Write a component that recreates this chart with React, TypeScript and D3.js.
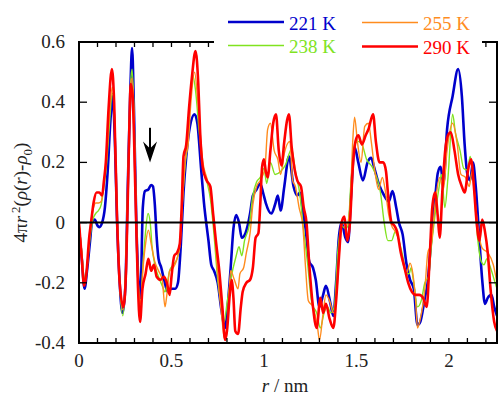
import React from "react";
import * as d3 from "d3";

// 4πr²(ρ(r)-ρ0) vs r for four temperatures
const W = 498;
const H = 397;
const margin = { top: 42, right: 1, bottom: 54, left: 79 };

const xTickValues = [0, 0.5, 1, 1.5, 2];
const xTickLabels = ["0", "0.5", "1", "1.5", "2"];
const yTickValues = [-0.4, -0.2, 0, 0.2, 0.4, 0.6];
const yTickLabels = ["-0.4", "-0.2", "0", "0.2", "0.4", "0.6"];

const seriesNames = ["221 K", "238 K", "255 K", "290 K"];
const seriesColors = ["#0000cc", "#80e31f", "#ff8c1e", "#ff0000"];
const seriesWidths = [2.6, 1.4, 1.4, 2.6];

// [r (nm), value]
const t221: [number, number][] = [
  [0, -0.02], [0.015, -0.12], [0.03, -0.22], [0.045, -0.15], [0.06, -0.06], [0.07, 0.0],
  [0.085, 0.01], [0.1, -0.01], [0.11, -0.015], [0.125, 0.0], [0.14, 0.05], [0.155, 0.17],
  [0.17, 0.34], [0.182, 0.42], [0.195, 0.25], [0.205, 0.02], [0.22, -0.2], [0.235, -0.3],
  [0.25, -0.22], [0.265, 0.15], [0.278, 0.45], [0.287, 0.58], [0.297, 0.38], [0.31, 0.0],
  [0.322, -0.2], [0.332, -0.25], [0.345, 0.05], [0.357, 0.105], [0.375, 0.11], [0.39, 0.125],
  [0.4, 0.12], [0.41, 0.06], [0.42, -0.05], [0.43, -0.12], [0.445, -0.15], [0.46, -0.19],
  [0.48, -0.23], [0.5, -0.22], [0.52, -0.22], [0.535, -0.2], [0.55, -0.08], [0.565, 0.1],
  [0.58, 0.22], [0.6, 0.32], [0.625, 0.36], [0.64, 0.33], [0.66, 0.18], [0.675, 0.07],
  [0.7, -0.06], [0.715, -0.14], [0.73, -0.16], [0.75, -0.2], [0.77, -0.29], [0.79, -0.35],
  [0.805, -0.27], [0.82, -0.15], [0.835, -0.02], [0.85, 0.025], [0.865, 0.0], [0.88, -0.05],
  [0.9, -0.035], [0.925, 0.03], [0.94, 0.09], [0.96, 0.11], [0.98, 0.13], [0.995, 0.1],
  [1.01, 0.065], [1.04, 0.03], [1.06, 0.06], [1.075, 0.09], [1.09, 0.04], [1.11, 0.12],
  [1.135, 0.22], [1.16, 0.12], [1.18, 0.09], [1.195, 0.1], [1.21, 0.04], [1.225, -0.02],
  [1.245, -0.13], [1.265, -0.15], [1.28, -0.19], [1.3, -0.28], [1.32, -0.24], [1.335, -0.21],
  [1.36, -0.27], [1.375, -0.31], [1.39, -0.2], [1.405, -0.05], [1.42, 0.0], [1.44, -0.05],
  [1.455, -0.065], [1.47, 0.08], [1.49, 0.25], [1.51, 0.2], [1.535, 0.14], [1.56, 0.2],
  [1.58, 0.215], [1.595, 0.185], [1.62, 0.13], [1.65, 0.09], [1.675, 0.07], [1.695, 0.105],
  [1.715, 0.05], [1.73, 0.0], [1.75, -0.04], [1.77, -0.135], [1.79, -0.19], [1.81, -0.22],
  [1.83, -0.34], [1.845, -0.33], [1.87, -0.25], [1.885, -0.2], [1.905, -0.05], [1.92, 0.04],
  [1.94, 0.165], [1.955, 0.185], [1.97, 0.13], [1.99, 0.31], [2.02, 0.42], [2.05, 0.51],
  [2.07, 0.42], [2.085, 0.26], [2.1, 0.16], [2.115, 0.14], [2.13, 0.2], [2.145, 0.12],
  [2.165, -0.06], [2.18, -0.19], [2.195, -0.27], [2.21, -0.25], [2.23, -0.24], [2.245, -0.28],
  [2.26, -0.31],
];

const t238: [number, number][] = [
  [0, 0.0], [0.015, -0.1], [0.03, -0.19], [0.045, -0.14], [0.06, -0.05], [0.075, 0.01],
  [0.09, 0.03], [0.105, 0.04], [0.12, 0.06], [0.135, 0.12], [0.15, 0.2], [0.165, 0.33],
  [0.18, 0.43], [0.19, 0.38], [0.205, 0.05], [0.22, -0.2], [0.237, -0.31], [0.25, -0.2],
  [0.265, 0.15], [0.28, 0.47], [0.287, 0.51], [0.297, 0.38], [0.31, 0.0], [0.322, -0.22],
  [0.333, -0.29], [0.345, -0.15], [0.36, -0.03], [0.373, 0.03], [0.385, 0.0], [0.395, -0.08],
  [0.41, -0.14], [0.43, -0.18], [0.45, -0.21], [0.465, -0.23], [0.475, -0.21], [0.49, -0.16],
  [0.51, -0.14], [0.53, -0.12], [0.545, -0.07], [0.56, 0.08], [0.575, 0.2], [0.59, 0.28],
  [0.6, 0.4], [0.615, 0.49], [0.63, 0.44], [0.65, 0.3], [0.67, 0.19], [0.69, 0.14],
  [0.71, 0.08], [0.73, -0.04], [0.75, -0.19], [0.77, -0.28], [0.785, -0.33], [0.8, -0.27],
  [0.82, -0.19], [0.85, -0.11], [0.865, -0.08], [0.88, -0.11], [0.895, -0.06], [0.92, -0.01],
  [0.94, 0.09], [0.96, 0.135], [0.98, 0.15], [1.0, 0.18], [1.015, 0.13], [1.035, 0.2],
  [1.06, 0.16], [1.09, 0.17], [1.115, 0.19], [1.15, 0.245], [1.17, 0.17], [1.195, 0.09],
  [1.21, 0.0], [1.235, -0.13], [1.26, -0.27], [1.285, -0.3], [1.305, -0.35], [1.325, -0.3],
  [1.345, -0.28], [1.36, -0.3], [1.38, -0.28], [1.4, -0.09], [1.42, -0.01], [1.44, -0.02],
  [1.455, -0.01], [1.47, 0.13], [1.49, 0.26], [1.51, 0.27], [1.53, 0.26], [1.555, 0.21],
  [1.585, 0.185], [1.61, 0.15], [1.63, 0.1], [1.65, 0.0], [1.67, -0.06], [1.69, -0.06],
  [1.71, -0.03], [1.73, -0.06], [1.75, -0.11], [1.77, -0.17], [1.785, -0.17], [1.795, -0.15],
  [1.81, -0.2], [1.83, -0.28], [1.85, -0.26], [1.87, -0.2], [1.89, -0.18], [1.905, -0.08],
  [1.92, 0.0], [1.945, 0.11], [1.96, 0.16], [1.978, 0.05], [1.995, 0.15], [2.02, 0.36],
  [2.035, 0.3], [2.06, 0.24], [2.08, 0.18], [2.1, 0.175], [2.115, 0.22], [2.13, 0.16],
  [2.155, -0.05], [2.175, -0.13], [2.19, -0.14], [2.205, -0.12], [2.225, -0.15], [2.245, -0.19],
  [2.26, -0.22],
];

const t255: [number, number][] = [
  [0, 0.0], [0.015, -0.1], [0.03, -0.2], [0.045, -0.14], [0.06, -0.02], [0.075, 0.04],
  [0.09, 0.065], [0.105, 0.065], [0.12, 0.07], [0.135, 0.14], [0.15, 0.22], [0.165, 0.36],
  [0.18, 0.45], [0.19, 0.38], [0.205, 0.04], [0.22, -0.2], [0.237, -0.29], [0.25, -0.2],
  [0.265, 0.15], [0.28, 0.46], [0.287, 0.48], [0.297, 0.37], [0.31, 0.0], [0.322, -0.22],
  [0.333, -0.27], [0.345, -0.16], [0.36, -0.07], [0.375, -0.025], [0.39, -0.07], [0.41, -0.13],
  [0.43, -0.16], [0.45, -0.19], [0.465, -0.28], [0.475, -0.24], [0.49, -0.16], [0.51, -0.15],
  [0.53, -0.12], [0.545, -0.08], [0.56, 0.07], [0.575, 0.21], [0.59, 0.26], [0.605, 0.4],
  [0.625, 0.5], [0.64, 0.42], [0.655, 0.3], [0.67, 0.2], [0.69, 0.15], [0.71, 0.1],
  [0.73, 0.0], [0.75, -0.17], [0.77, -0.3], [0.785, -0.38], [0.795, -0.39], [0.81, -0.25],
  [0.82, -0.16], [0.84, -0.19], [0.86, -0.22], [0.87, -0.17], [0.89, -0.15], [0.905, -0.1],
  [0.925, -0.035], [0.94, 0.06], [0.96, 0.12], [0.98, 0.14], [1.005, 0.18], [1.02, 0.31],
  [1.035, 0.33], [1.055, 0.24], [1.075, 0.21], [1.09, 0.16], [1.11, 0.23], [1.14, 0.27],
  [1.155, 0.14], [1.17, 0.12], [1.19, 0.05], [1.21, -0.01], [1.225, -0.15], [1.24, -0.26],
  [1.265, -0.28], [1.29, -0.35], [1.3, -0.39], [1.32, -0.3], [1.335, -0.24], [1.355, -0.26],
  [1.375, -0.3], [1.395, -0.22], [1.41, -0.08], [1.425, 0.0], [1.445, -0.01], [1.465, 0.05],
  [1.48, 0.27], [1.49, 0.35], [1.505, 0.27], [1.525, 0.2], [1.545, 0.32], [1.565, 0.33],
  [1.58, 0.27], [1.6, 0.17], [1.62, 0.11], [1.64, 0.15], [1.66, 0.09], [1.675, 0.025],
  [1.69, -0.01], [1.71, -0.03], [1.73, -0.06], [1.75, -0.13], [1.77, -0.17], [1.79, -0.135],
  [1.805, -0.17], [1.82, -0.26], [1.83, -0.35], [1.845, -0.32], [1.87, -0.22], [1.886, -0.1],
  [1.905, -0.07], [1.925, 0.06], [1.95, 0.15], [1.97, 0.11], [1.99, 0.24], [2.02, 0.33],
  [2.045, 0.26], [2.065, 0.16], [2.09, 0.15], [2.11, 0.12], [2.125, 0.17], [2.145, 0.05],
  [2.165, -0.05], [2.18, -0.085], [2.21, -0.1], [2.24, -0.14], [2.26, -0.2],
];

const t290: [number, number][] = [
  [0, 0.0], [0.015, -0.12], [0.028, -0.21], [0.04, -0.17], [0.055, -0.05], [0.065, 0.0],
  [0.08, 0.07], [0.095, 0.1], [0.11, 0.1], [0.125, 0.09], [0.135, 0.14], [0.145, 0.2],
  [0.16, 0.38], [0.178, 0.51], [0.19, 0.4], [0.205, 0.03], [0.22, -0.2], [0.24, -0.28],
  [0.255, -0.15], [0.268, 0.2], [0.28, 0.46], [0.29, 0.42], [0.305, 0.1], [0.318, -0.2],
  [0.33, -0.33], [0.343, -0.22], [0.36, -0.17], [0.375, -0.12], [0.39, -0.16], [0.405, -0.14],
  [0.42, -0.18], [0.44, -0.19], [0.46, -0.18], [0.475, -0.2], [0.49, -0.24], [0.5, -0.18],
  [0.515, -0.11], [0.53, -0.1], [0.545, -0.07], [0.555, 0.05], [0.565, 0.22], [0.58, 0.26],
  [0.595, 0.38], [0.61, 0.48], [0.63, 0.57], [0.645, 0.46], [0.655, 0.3], [0.67, 0.18],
  [0.69, 0.14], [0.71, 0.12], [0.725, 0.03], [0.74, -0.06], [0.76, -0.17], [0.775, -0.28],
  [0.79, -0.39], [0.8, -0.36], [0.815, -0.24], [0.825, -0.19], [0.835, -0.25], [0.845, -0.36],
  [0.86, -0.37], [0.875, -0.28], [0.885, -0.23], [0.905, -0.2], [0.925, -0.19], [0.94, -0.15],
  [0.955, -0.05], [0.97, -0.035], [0.98, 0.06], [0.99, 0.185], [1.0, 0.21], [1.01, 0.17],
  [1.02, 0.15], [1.035, 0.24], [1.05, 0.33], [1.065, 0.36], [1.08, 0.24], [1.095, 0.19],
  [1.11, 0.27], [1.125, 0.34], [1.135, 0.36], [1.15, 0.25], [1.165, 0.18], [1.18, 0.14],
  [1.2, 0.12], [1.215, 0.05], [1.23, 0.0], [1.245, -0.14], [1.265, -0.28], [1.285, -0.35],
  [1.305, -0.25], [1.32, -0.3], [1.335, -0.27], [1.355, -0.32], [1.375, -0.35], [1.39, -0.26],
  [1.405, -0.12], [1.42, 0.0], [1.435, 0.02], [1.45, -0.06], [1.465, 0.0], [1.48, 0.18],
  [1.495, 0.27], [1.51, 0.29], [1.53, 0.26], [1.55, 0.29], [1.565, 0.31], [1.59, 0.36],
  [1.605, 0.27], [1.625, 0.2], [1.645, 0.2], [1.66, 0.17], [1.67, 0.1], [1.69, 0.0],
  [1.705, -0.01], [1.72, -0.03], [1.74, -0.1], [1.76, -0.15], [1.78, -0.2], [1.8, -0.23],
  [1.82, -0.24], [1.84, -0.24], [1.86, -0.25], [1.88, -0.28], [1.895, -0.13], [1.91, 0.05],
  [1.925, 0.1], [1.94, 0.02], [1.95, -0.05], [1.965, 0.11], [1.98, 0.24], [1.995, 0.29],
  [2.01, 0.3], [2.03, 0.24], [2.05, 0.16], [2.07, 0.12], [2.085, 0.1], [2.105, 0.18],
  [2.12, 0.21], [2.135, 0.12], [2.15, 0.0], [2.165, -0.06], [2.18, 0.01], [2.195, -0.03],
  [2.21, -0.1], [2.225, -0.22], [2.245, -0.33], [2.26, -0.36],
];

const allSeries = [t221, t238, t255, t290];

// arrow annotation (r, from value, to value)
const arrowR = 0.384;
const arrowFrom = 0.315;
const arrowTo = 0.2;

const font = "'Liberation Serif', 'DejaVu Serif', serif";

export default function App() {
  const x = d3.scaleLinear().domain([0, 2.26]).range([margin.left, W - margin.right]);
  const y = d3.scaleLinear().domain([-0.4, 0.6]).range([H - margin.bottom, margin.top]);
  const [x0, x1] = x.range();
  const [yb, yt] = y.range();

  const line = d3
    .line<[number, number]>()
    .x((d) => x(d[0]))
    .y((d) => y(d[1]))
    .curve(d3.curveMonotoneX);

  const minorX = d3.range(0, 2.25, 0.1);

  const legendPos = [
    { lx: 228, ly: 22 },
    { lx: 228, ly: 45.5 },
    { lx: 362, ly: 22.5 },
    { lx: 362, ly: 46.5 },
  ];

  const ax = x(arrowR);
  const ay0 = y(arrowFrom);
  const ay1 = y(arrowTo);

  return (
    <div style={{ position: "absolute", left: 0, top: 0, fontFamily: font }}>
      <svg width={W} height={H} style={{ display: "block", background: "#fff", fontFamily: font }}>
        <defs>
          <clipPath id="plot">
            <rect x={x0} y={yt} width={x1 - x0} height={yb - yt} />
          </clipPath>
        </defs>

        <g clipPath="url(#plot)">
          {allSeries.map((s, i) => (
            <path
              key={i}
              d={line(s) || ""}
              fill="none"
              stroke={seriesColors[i]}
              strokeWidth={seriesWidths[i]}
              strokeLinejoin="round"
            />
          ))}
        </g>

        {/* zero line */}
        <line x1={x0} x2={x1} y1={y(0)} y2={y(0)} stroke="#000" strokeWidth={2} />

        {/* ticks */}
        {minorX.map((t) => (
          <g key={"xt" + t}>
            <line x1={x(t)} x2={x(t)} y1={yb} y2={yb - 5} stroke="#000" strokeWidth={1.3} />
            <line x1={x(t)} x2={x(t)} y1={yt} y2={yt + 5} stroke="#000" strokeWidth={1.3} />
          </g>
        ))}
        {yTickValues.map((t) => (
          <g key={"yt" + t}>
            <line x1={x0} x2={x0 + 8} y1={y(t)} y2={y(t)} stroke="#000" strokeWidth={1.3} />
            <line x1={x1} x2={x1 - 8} y1={y(t)} y2={y(t)} stroke="#000" strokeWidth={1.3} />
          </g>
        ))}

        {/* frame */}
        <rect x={x0} y={yt} width={x1 - x0} height={yb - yt} fill="none" stroke="#000" strokeWidth={2} />

        {/* tick labels */}
        {xTickValues.map((t, i) => (
          <text key={"xl" + t} x={x(t)} y={yb + 24} textAnchor="middle" fontSize={19} fill="#222" fontFamily={font}>
            {xTickLabels[i]}
          </text>
        ))}
        {yTickValues.map((t, i) => (
          <text key={"yl" + t} x={x0 - 14} y={y(t) + 6} textAnchor="end" fontSize={19} fill="#222" fontFamily={font}>
            {yTickLabels[i]}
          </text>
        ))}

        {/* axis titles */}
        <text x={(x0 + x1) / 2 - 3} y={392} textAnchor="middle" fontSize={19} fill="#222" fontFamily={font}>
          <tspan fontStyle="italic">r</tspan> / nm
        </text>
        <text
          transform={`translate(27, ${(yt + yb) / 2}) rotate(-90)`}
          textAnchor="middle"
          fontSize={19}
          fill="#222"
          fontFamily={font}
        >
          4π<tspan fontStyle="italic">r</tspan>
          <tspan dx={3} dy={-7} fontSize={13}>2</tspan>
          <tspan dy={7}>(</tspan>
          <tspan fontStyle="italic">ρ</tspan>(<tspan fontStyle="italic">r</tspan>)-<tspan fontStyle="italic">ρ</tspan>
          <tspan dy={5} fontSize={13}>0</tspan>
          <tspan dy={-5}>)</tspan>
        </text>

        {/* arrow */}
        <line x1={ax} x2={ax} y1={ay0} y2={ay1 - 10} stroke="#000" strokeWidth={2} />
        <path
          d={`M${ax},${ay1} L${ax - 7},${ay1 - 21} L${ax},${ay1 - 14} L${ax + 7},${ay1 - 21} Z`}
          fill="#000"
        />

        {/* legend */}
        <rect x={214} y={0} width={268} height={57} fill="#fff" />
        {seriesNames.map((name, i) => {
          const p = legendPos[i];
          return (
            <g key={name}>
              <line
                x1={p.lx}
                x2={p.lx + 56}
                y1={p.ly}
                y2={p.ly}
                stroke={seriesColors[i]}
                strokeWidth={seriesWidths[i]}
              />
              <text x={p.lx + 61} y={p.ly + 7.5} fontSize={19} fill={seriesColors[i]} fontFamily={font}>
                {name}
              </text>
            </g>
          );
        })}
      </svg>
    </div>
  );
}
